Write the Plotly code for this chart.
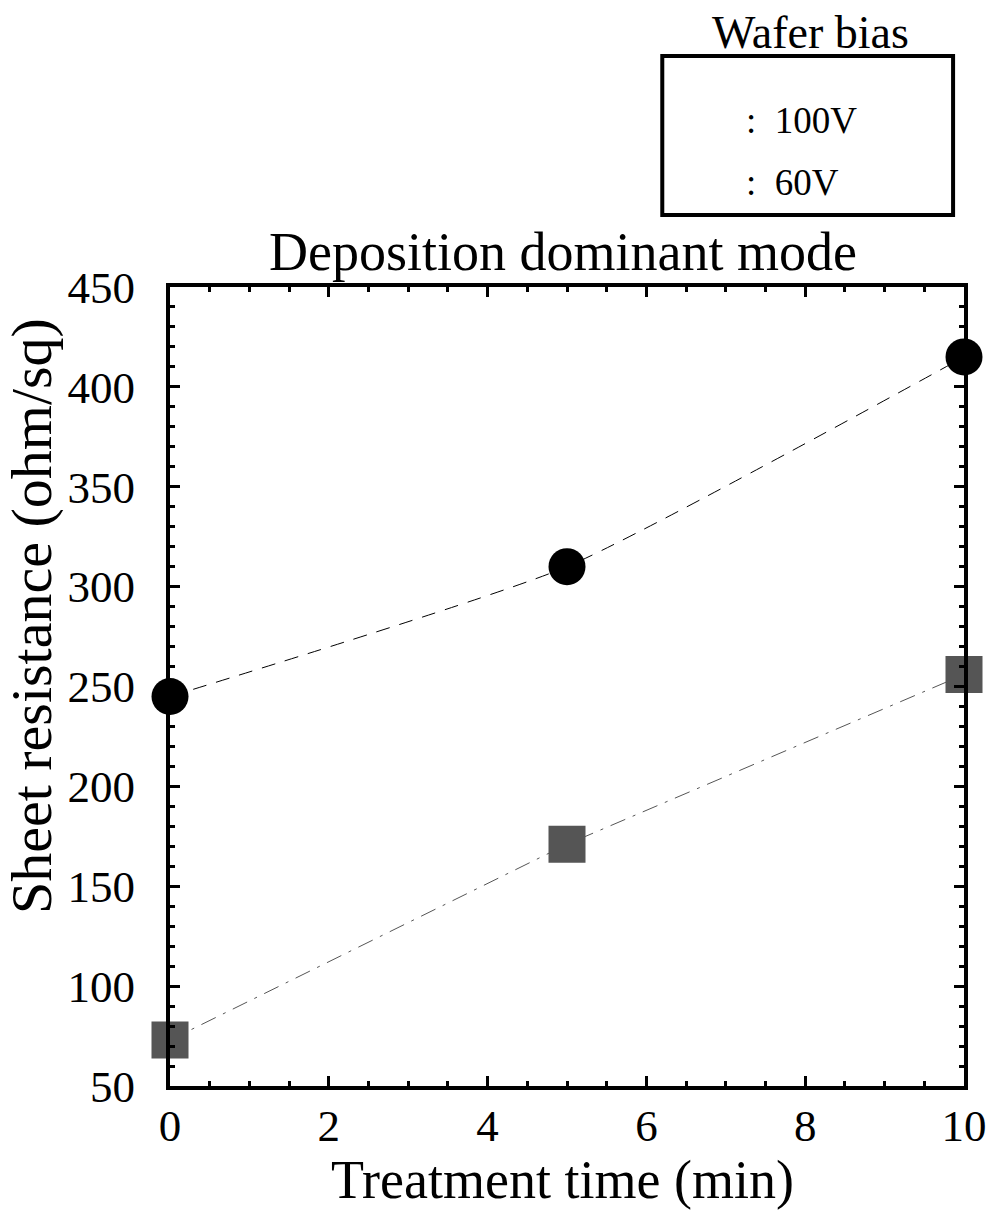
import plotly.graph_objects as go

time_min = [0, 5, 10]
bias_100v = [245, 310, 415]
bias_60v = [73, 171, 256]
legend_title = "Wafer bias"
labels = ["100V", "60V"]
x_title = "Treatment time (min)"
y_title = "Sheet resistance (ohm/sq)"
chart_title = "Deposition dominant mode"

FONT = "Liberation Serif, Times New Roman, serif"
W, H = 999, 1210
L, R, T, B = 170, 29, 287, 124
pw, ph = W - L - R, H - T - B

def px(x):
    return (x - L) / pw

def py(y):
    return (H - B - y) / ph

fig = go.Figure()
fig.add_trace(go.Scatter(
    x=time_min, y=bias_100v, mode="lines+markers", name=labels[0],
    line=dict(color="black", width=1, dash="14px,10px", shape="spline", smoothing=0.5),
    marker=dict(symbol="circle", size=37, color="black"),
    cliponaxis=False, showlegend=False))
fig.add_trace(go.Scatter(
    x=time_min, y=bias_60v, mode="lines+markers", name=labels[1],
    line=dict(color="#555555", width=1, dash="16px,8px,3px,8px"),
    marker=dict(symbol="square", size=37, color="#555555"),
    cliponaxis=False, showlegend=False))

axis_common = dict(
    showline=True, linewidth=4, linecolor="black", mirror="ticks",
    ticks="inside", tickwidth=3, tickcolor="black", ticklen=10,
    showgrid=False, zeroline=False,
    tickfont=dict(family=FONT, size=45, color="black"),
)

fig.update_xaxes(**axis_common, range=[0, 10], tickvals=[0, 2, 4, 6, 8, 10],
                 ticklabelstandoff=-3,
                 minor=dict(ticks="inside", dtick=0.5, ticklen=5, tickwidth=3, tickcolor="black"))
fig.update_yaxes(**axis_common, range=[50, 450], tickvals=[50, 100, 150, 200, 250, 300, 350, 400, 450],
                 ticklabelstandoff=22,
                 minor=dict(ticks="inside", dtick=10, ticklen=5, tickwidth=3, tickcolor="black"))

fig.add_shape(type="rect", xref="paper", yref="paper",
              x0=px(666), x1=px(959), y0=py(215), y1=py(56),
              line=dict(color="black", width=4), fillcolor="white")

annotations = [
    dict(text=legend_title, x=px(815), y=py(32), xanchor="center", yanchor="middle", size=46, angle=0),
    dict(text=":  " + labels[0], x=px(748), y=py(120), xanchor="left", yanchor="middle", size=37, angle=0),
    dict(text=":  " + labels[1], x=px(748), y=py(183), xanchor="left", yanchor="middle", size=37, angle=0),
    dict(text=chart_title, x=px(566), y=py(252), xanchor="center", yanchor="middle", size=54, angle=0),
    dict(text=x_title, x=px(565), y=py(1180), xanchor="center", yanchor="middle", size=54, angle=0),
    dict(text=y_title, x=px(30), y=py(616), xanchor="center", yanchor="middle", size=58, angle=-90),
]
for a in annotations:
    fig.add_annotation(text=a["text"], xref="paper", yref="paper", x=a["x"], y=a["y"],
                       xanchor=a["xanchor"], yanchor=a["yanchor"], showarrow=False,
                       textangle=a["angle"],
                       font=dict(family=FONT, size=a["size"], color="black"))

fig.update_layout(
    width=W, height=H, margin=dict(l=L, r=R, t=T, b=B),
    paper_bgcolor="white", plot_bgcolor="white",
    font=dict(family=FONT, color="black"),
)

fig.write_html("out.html")
